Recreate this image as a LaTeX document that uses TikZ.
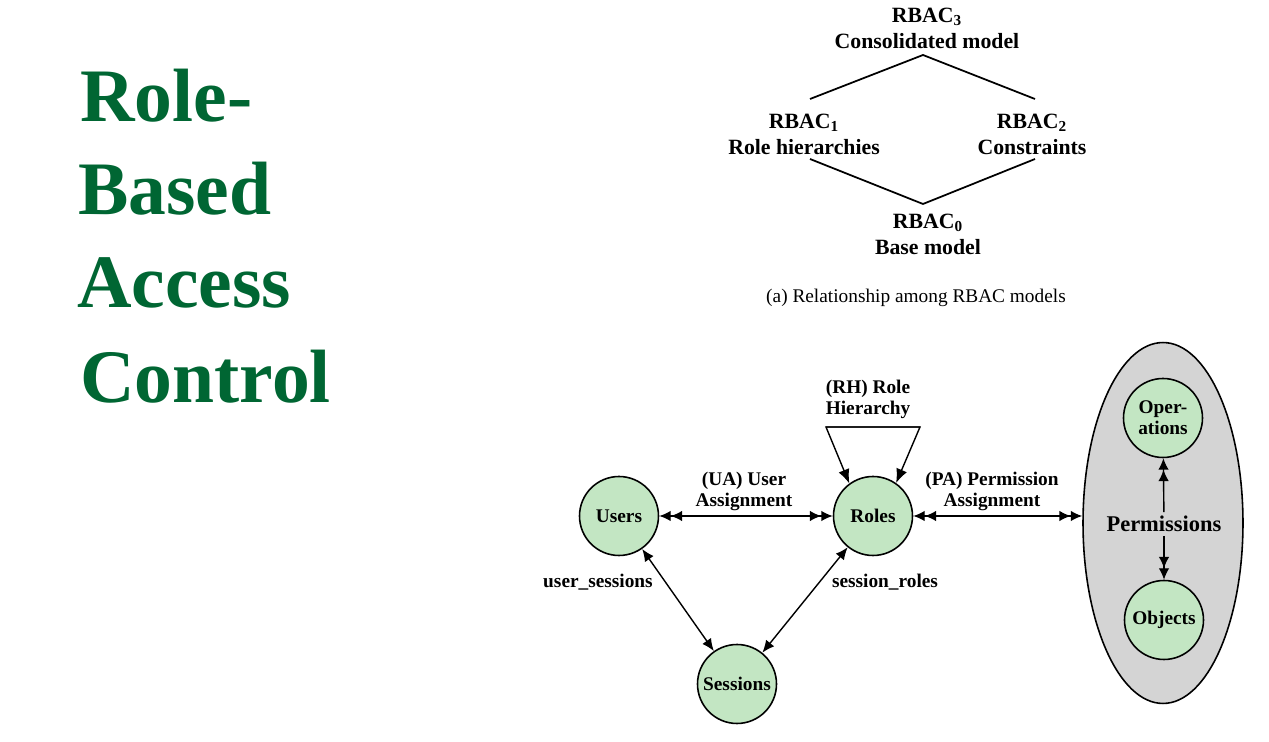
\documentclass[tikz,border=0pt]{standalone}
\usepackage{fontspec}
\setmainfont{Liberation Serif}
\usetikzlibrary{arrows.meta,shapes.geometric}
\definecolor{titlegreen}{HTML}{006633}
\definecolor{nodegreen}{HTML}{C3E6C3}
\definecolor{permgray}{HTML}{D4D4D4}
\tikzset{
  titleline/.style={anchor=base west, inner sep=0pt, text=titlegreen, font=\fontsize{43}{50}\selectfont\bfseries},
  modellbl/.style={align=center, inner sep=1pt, font=\fontsize{12.4}{14.8}\selectfont\bfseries},
  caplbl/.style={align=center, inner sep=1pt, font=\fontsize{11}{13}\selectfont},
  edgelbl/.style={align=center, inner sep=1pt, font=\fontsize{11}{12}\selectfont\bfseries},
  entity/.style={circle, draw, line width=0.9pt, fill=nodegreen, minimum size=1.58cm, inner sep=0pt, align=center, font=\fontsize{11}{12}\selectfont\bfseries},
  conn/.style={line width=0.8pt},
  diam/.style={line width=1pt},
}
\begin{document}
\begin{tikzpicture}[x=0.02cm,y=-0.02cm]
\useasboundingbox (0,0) rectangle (1269,742);
\fill[white] (0,0) rectangle (1269,742);

% title
\node[titleline] (t1) at (80,122) {Role-};
\node[titleline] (t2) at (78,215) {Based};
\node[titleline] (t3) at (77,308) {Access};
\node[titleline] (t4) at (80,403) {Control};

% (a) lattice of models
\node[modellbl] (r3) at (927,28) {RBAC\textsubscript{3}\\Consolidated model};
\node[modellbl] (r1) at (804,134) {RBAC\textsubscript{1}\\Role hierarchies};
\node[modellbl] (r2) at (1032,134) {RBAC\textsubscript{2}\\Constraints};
\node[modellbl] (r0) at (928,234) {RBAC\textsubscript{0}\\Base model};
\node[caplbl] (cap) at (916,298) {(a) Relationship among RBAC models};

\coordinate (tl) at (810,99);
\coordinate (tt) at (923,55);
\coordinate (tr) at (1035,99);
\coordinate (bl) at (810,159);
\coordinate (bb) at (923,204);
\coordinate (br) at (1035,159);
\draw[diam] (tl) -- (tt) -- (tr);
\draw[diam] (bl) -- (bb) -- (br);

% (b) model diagram
\node[ellipse, draw, line width=0.9pt, fill=permgray, minimum width=3.2cm, minimum height=7.22cm, inner sep=0pt] (ell) at (1163,523) {};
\node[entity] (users) at (619,516) {Users};
\node[entity] (roles) at (873,516) {Roles};
\node[entity] (sessions) at (737,684) {Sessions};
\node[entity] (ops) at (1163,418) {Oper-\\ations};
\node[entity] (objs) at (1164,620) {Objects};
\node[fill=permgray, inner sep=2pt, font=\fontsize{12.8}{14}\selectfont\bfseries] (perm) at (1164,524) {Permissions};

\node[edgelbl] (ualbl) at (744,491) {(UA) User\\Assignment};
\node[edgelbl] (palbl) at (992,491) {(PA) Permission\\Assignment};
\node[edgelbl] (rhlbl) at (868,399) {(RH) Role\\Hierarchy};
\node[edgelbl] (uslbl) at (598,582) {user\_sessions};
\node[edgelbl] (srlbl) at (885,582) {session\_roles};

\coordinate (rha) at (826,427);
\coordinate (rhb) at (920,427);

\draw[conn, {Latex[length=6.5pt,width=6pt]Latex[length=6.5pt,width=6pt]}-{Latex[length=6.5pt,width=6pt]Latex[length=6.5pt,width=6pt]}] (users) -- (roles);
\draw[conn, {Latex[length=6.5pt,width=6pt]Latex[length=6.5pt,width=6pt]}-{Latex[length=6.5pt,width=6pt]Latex[length=6.5pt,width=6pt]}] (roles.east) -- (roles.east -| ell.west);
\draw[conn, {Latex[length=7pt,width=6pt]}-{Latex[length=7pt,width=6pt]}] (users) -- (sessions);
\draw[conn, {Latex[length=7pt,width=6pt]}-{Latex[length=7pt,width=6pt]}] (sessions) -- (roles);
\draw[conn, -{Latex[length=8pt,width=6.5pt]}] (rhb) -- (rha) -- (roles.126);
\draw[conn, -{Latex[length=8pt,width=6.5pt]}] (rha) -- (rhb) -- (roles.55);
\draw[conn, -{Latex[length=6.5pt,width=6pt]Latex[length=6.5pt,width=6pt]}] (perm) -- (ops);
\draw[conn, -{Latex[length=6.5pt,width=6pt]Latex[length=6.5pt,width=6pt]}] (perm) -- (objs);
\end{tikzpicture}
\end{document}
